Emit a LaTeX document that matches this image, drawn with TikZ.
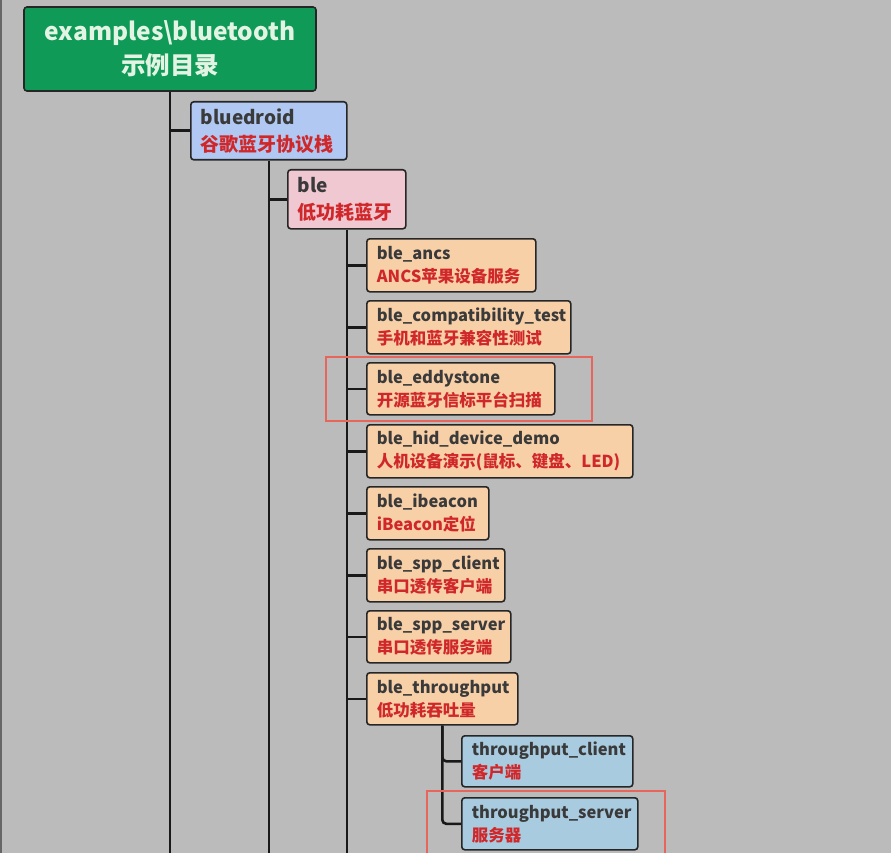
\documentclass[tikz,border=0pt]{standalone}
\usepackage{fontspec}
\newfontfamily\cjk{Noto Sans CJK SC}
\usepackage{tikz}
\definecolor{bgray}{HTML}{BBBBBB}
\definecolor{rootgreen}{HTML}{0F9A57}
\definecolor{roottext}{HTML}{E4F4E4}
\definecolor{bluefill}{HTML}{B0C8F2}
\definecolor{pinkfill}{HTML}{F0C8D2}
\definecolor{peachfill}{HTML}{F8D0A8}
\definecolor{skyfill}{HTML}{A9CBE0}
\definecolor{nametext}{HTML}{3A3A3A}
\definecolor{cnred}{HTML}{D0282A}
\definecolor{hilite}{HTML}{E8655C}
\newcommand{\boxtext}[2]{#1\\\textcolor{cnred}{#2}}

\begin{document}
\begin{tikzpicture}[x=1pt,y=-1pt,
  box/.style={draw=black!85,line width=1.6pt,rounded corners=3pt,anchor=north west,align=left,
    inner xsep=10pt,inner ysep=0pt,text=nametext,font=\cjk\bfseries\fontsize{16.5}{23}\selectfont},
  midbox/.style={box,font=\cjk\bfseries\fontsize{19}{27}\selectfont},
  link/.style={draw=black!90,line width=2.6pt},
  hibox/.style={draw=hilite,line width=2pt}]
\fill[bgray] (0,0) rectangle (891,853);
\useasboundingbox (0,0) rectangle (891,853);
\draw[black!60,line width=1.5pt] (0.75,0) -- (0.75,853);
\coordinate (bot) at (0,860);
\node[draw=black!85,line width=1.6pt,rounded corners=3pt,fill=rootgreen,text=roottext,align=center,
  minimum width=292pt,minimum height=84pt,inner sep=0pt,font=\cjk\bfseries\fontsize{24.5}{34}\selectfont]
  (root) at (170,49) {examples\textbackslash bluetooth\\示例目录};
\node[midbox,fill=bluefill,text width=136pt,minimum height=58pt] (blue) at (190,101) {\boxtext{bluedroid}{谷歌蓝牙协议栈}};
\node[midbox,fill=pinkfill,text width=98pt,minimum height=59pt] (ble) at (287,169) {\boxtext{ble}{低功耗蓝牙}};
\node[box,fill=peachfill,text width=149pt,minimum height=53pt] (ancs) at (366,238) {\boxtext{ble\_ancs}{ANCS苹果设备服务}};
\node[box,fill=peachfill,text width=184pt,minimum height=53pt] (compat) at (366,300) {\boxtext{ble\_compatibility\_test}{手机和蓝牙兼容性测试}};
\node[box,fill=peachfill,text width=168pt,minimum height=52pt] (eddy) at (366,362) {\boxtext{ble\_eddystone}{开源蓝牙信标平台扫描}};
\node[box,fill=peachfill,text width=246pt,minimum height=53pt] (hid) at (366,424) {\boxtext{ble\_hid\_device\_demo}{人机设备演示(鼠标、键盘、LED)}};
\node[box,fill=peachfill,text width=102pt,minimum height=53pt] (ibeacon) at (366,486) {\boxtext{ble\_ibeacon}{iBeacon定位}};
\node[box,fill=peachfill,text width=118pt,minimum height=53pt] (sppc) at (366,548) {\boxtext{ble\_spp\_client}{串口透传客户端}};
\node[box,fill=peachfill,text width=124pt,minimum height=52pt] (spps) at (366,610) {\boxtext{ble\_spp\_server}{串口透传服务端}};
\node[box,fill=peachfill,text width=131pt,minimum height=52pt] (thr) at (366,672) {\boxtext{ble\_throughput}{低功耗吞吐量}};
\node[box,fill=skyfill,text width=151pt,minimum height=51pt] (tcli) at (461,735) {\boxtext{throughput\_client}{客户端}};
\node[box,fill=skyfill,text width=156pt,minimum height=52pt] (tsrv) at (461,797) {\boxtext{throughput\_server}{服务器}};
\draw[link] (root.south) -- (root.south |- bot);
\draw[link] (root.south |- blue.west) -- (blue.west);
\draw[link] (blue.south) -- (blue.south |- bot);
\draw[link] (blue.south |- ble.west) -- (ble.west);
\draw[link] (ble.south) -- (ble.south |- bot);
\foreach \n in {ancs,compat,eddy,hid,ibeacon,sppc,spps,thr}
  \draw[link] (ble.south |- \n.west) -- (\n.west);
\draw[link,rounded corners=4pt] (thr.south) |- (tcli.west);
\draw[link,rounded corners=4pt] (thr.south) |- (tsrv.west);
\draw[hibox] (326,357) rectangle (592,421);
\draw[hibox] (427,791) rectangle (665,860);
\end{tikzpicture}
\end{document}
